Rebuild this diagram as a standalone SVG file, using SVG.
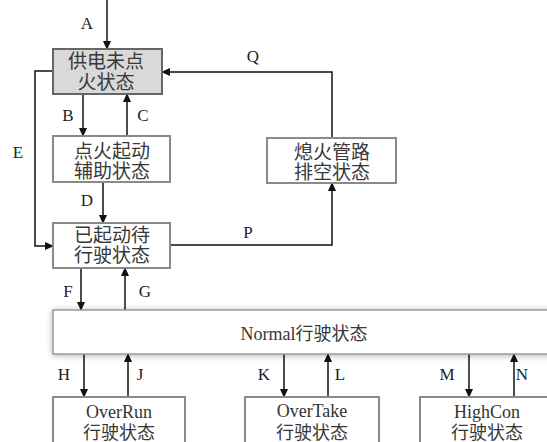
<svg xmlns="http://www.w3.org/2000/svg" width="547" height="442" viewBox="0 0 547 442">
<style>
.box{fill:#fff;stroke:#8a8a8a;stroke-width:2}
.cn{font-family:"Noto Sans CJK SC","Liberation Serif",serif;font-size:19px;fill:#383838;text-anchor:middle}
.cs{font-size:18px}
.en{font-family:"Liberation Serif","Noto Sans CJK SC",serif;font-size:18px;fill:#333;text-anchor:middle}
.lbl{font-family:"Liberation Serif",serif;font-size:17px;fill:#222;text-anchor:middle}
.ln{fill:none;stroke:#111;stroke-width:1.5;marker-end:url(#ah)}
</style>
<defs>
<marker id="ah" markerUnits="userSpaceOnUse" markerWidth="9" markerHeight="8" refX="8" refY="4" orient="auto">
<path d="M0,0 L9,4 L0,8 z" fill="#111"/>
</marker>
<filter id="sh" x="-5%" y="-30%" width="110%" height="160%">
<feGaussianBlur in="SourceAlpha" stdDeviation="3"/>
<feOffset dx="0" dy="1"/>
<feComponentTransfer><feFuncA type="linear" slope="0.3"/></feComponentTransfer>
<feMerge><feMergeNode/><feMergeNode in="SourceGraphic"/></feMerge>
</filter>
</defs>
<rect width="547" height="442" fill="#fff"/>

<g id="connectors">
<path class="ln" d="M107,0 V49"/>
<path class="ln" d="M332,138 V72 H162"/>
<path class="ln" d="M53,71 H35 V246 H53"/>
<path class="ln" d="M83,94 V136"/>
<path class="ln" d="M127,136 V94"/>
<path class="ln" d="M103,182 V223"/>
<path class="ln" d="M170,245 H332 V183"/>
<path class="ln" d="M81,268 V310"/>
<path class="ln" d="M125,310 V268"/>
<path class="ln" d="M84,354 V397"/>
<path class="ln" d="M128,397 V354"/>
<path class="ln" d="M284,354 V397"/>
<path class="ln" d="M328,397 V354"/>
<path class="ln" d="M469,354 V397"/>
<path class="ln" d="M514,397 V354"/>
<text class="lbl" x="87" y="29">A</text>
<text class="lbl" x="253" y="62">Q</text>
<text class="lbl" x="68" y="121">B</text>
<text class="lbl" x="143" y="121">C</text>
<text class="lbl" x="18" y="158">E</text>
<text class="lbl" x="87" y="206">D</text>
<text class="lbl" x="248" y="238">P</text>
<text class="lbl" x="68" y="297">F</text>
<text class="lbl" x="145" y="297">G</text>
<text class="lbl" x="64" y="380">H</text>
<text class="lbl" x="140" y="380">J</text>
<text class="lbl" x="264" y="380">K</text>
<text class="lbl" x="340" y="380">L</text>
<text class="lbl" x="447" y="380">M</text>
<text class="lbl" x="522" y="380">N</text>
</g>

<g id="n-power">
<rect x="53" y="49" width="109" height="45" fill="#d9d9d9" stroke="#666" stroke-width="2"/>
<text class="cn" x="106" y="68">供电未点</text>
<text class="cn" x="106" y="89">火状态</text>
</g>
<g id="n-ignite">
<rect class="box" x="53" y="136" width="117" height="46"/>
<text class="cn" x="112" y="158">点火起动</text>
<text class="cn" x="112" y="178">辅助状态</text>
</g>
<g id="n-started">
<rect class="box" x="53" y="223" width="117" height="45"/>
<text class="cn" x="112" y="242">已起动待</text>
<text class="cn" x="112" y="262">行驶状态</text>
</g>
<g id="n-purge">
<rect class="box" x="267" y="138" width="129" height="45"/>
<text class="cn" x="332" y="159">熄火管路</text>
<text class="cn" x="332" y="179">排空状态</text>
</g>
<g id="n-normal">
<rect x="53" y="310" width="500" height="44" fill="#fff" stroke="#999" stroke-width="1.5" filter="url(#sh)"/>
<text class="cn cs" x="304" y="340"><tspan font-family="Liberation Serif">Normal</tspan>行驶状态</text>
</g>
<g id="n-overrun">
<rect class="box" x="53" y="397" width="132" height="50"/>
<text class="en" x="119" y="418">OverRun</text>
<text class="cn cs" x="119" y="439">行驶状态</text>
</g>
<g id="n-overtake">
<rect class="box" x="245" y="397" width="134" height="50"/>
<text class="en" x="312" y="417">OverTake</text>
<text class="cn cs" x="312" y="439">行驶状态</text>
</g>
<g id="n-highcon">
<rect class="box" x="420" y="397" width="140" height="50"/>
<text class="en" x="487" y="418">HighCon</text>
<text class="cn cs" x="487" y="439">行驶状态</text>
</g>
</svg>
